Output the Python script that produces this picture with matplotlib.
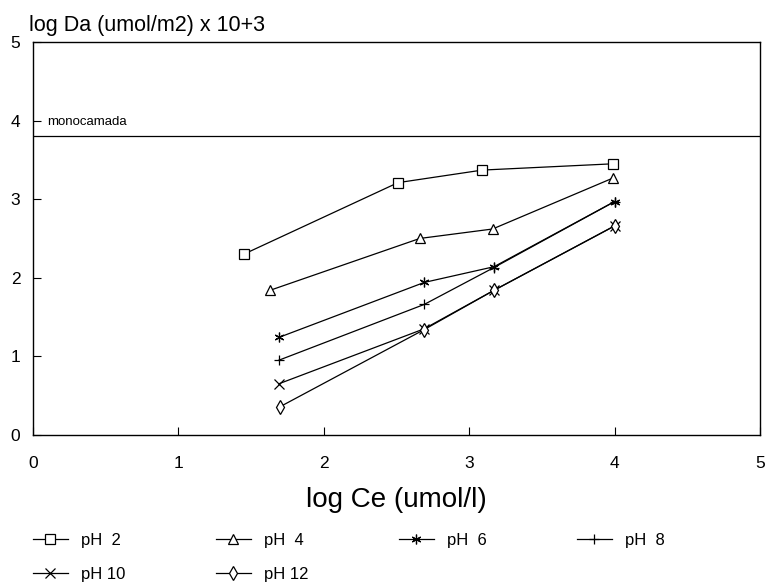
import matplotlib.pyplot as plt

plt.rcParams['font.family'] = ['Liberation Sans', 'DejaVu Sans']

# data (log Ce, log Da)
x_ph2 = [1.45, 2.51, 3.09, 3.99]
y_ph2 = [2.30, 3.21, 3.37, 3.45]
x_ph4 = [1.63, 2.66, 3.16, 3.99]
y_ph4 = [1.84, 2.50, 2.62, 3.27]
x_ph6 = [1.69, 2.69, 3.17, 4.00]
y_ph6 = [1.24, 1.94, 2.14, 2.97]
x_ph8 = [1.69, 2.69, 3.17, 4.00]
y_ph8 = [0.95, 1.66, 2.13, 2.97]
x_ph10 = [1.69, 2.69, 3.17, 4.00]
y_ph10 = [0.65, 1.35, 1.84, 2.66]
x_ph12 = [1.70, 2.69, 3.17, 4.00]
y_ph12 = [0.36, 1.34, 1.84, 2.66]
monocamada = 3.8

fig = plt.figure(figsize=(7.67, 5.83), dpi=100)
ax = fig.add_axes([0.043, 0.254, 0.948, 0.674])

kw = dict(color='black', lw=0.9, markersize=7, markerfacecolor='white', markeredgewidth=0.9)
h2, = ax.plot(x_ph2, y_ph2, marker='s', label='pH  2', **kw)
h4, = ax.plot(x_ph4, y_ph4, marker='^', label='pH  4', **kw)
h6, = ax.plot(x_ph6, y_ph6, marker=(6, 2, 0), label='pH  6', **kw)
h8, = ax.plot(x_ph8, y_ph8, marker='+', label='pH  8', **kw)
h10, = ax.plot(x_ph10, y_ph10, marker='x', label='pH 10', **kw)
h12, = ax.plot(x_ph12, y_ph12, marker='d', label='pH 12', **kw)

ax.axhline(monocamada, color='black', lw=0.9)
ax.text(0.1, monocamada + 0.18, 'monocamada', fontsize=9.5, va='center')

ax.set_xlim(0, 5)
ax.set_ylim(0, 5)
ax.set_xticks([0, 1, 2, 3, 4, 5])
ax.set_yticks([0, 1, 2, 3, 4, 5])
ax.tick_params(direction='in', length=6, labelsize=12.5)
ax.tick_params(axis='x', pad=15)
ax.tick_params(axis='y', pad=9)
for s in ax.spines.values():
    s.set_linewidth(1.0)

ax.set_xlabel('log Ce (umol/l)', fontsize=20, labelpad=12)
fig.text(0.038, 0.957, 'log Da (umol/m2) x 10+3', fontsize=15.5, va='center')

handles = [h2, h10, h4, h12, h6, h8]
fig.legend(handles=handles, labels=[h.get_label() for h in handles], ncol=4,
           loc='upper left', bbox_to_anchor=(0.043, 0.086), frameon=False,
           borderpad=0, borderaxespad=0,
           fontsize=12, columnspacing=5.4, handlelength=2.1, handletextpad=0.8,
           labelspacing=1.15)

fig.savefig('out.png', dpi=100)
